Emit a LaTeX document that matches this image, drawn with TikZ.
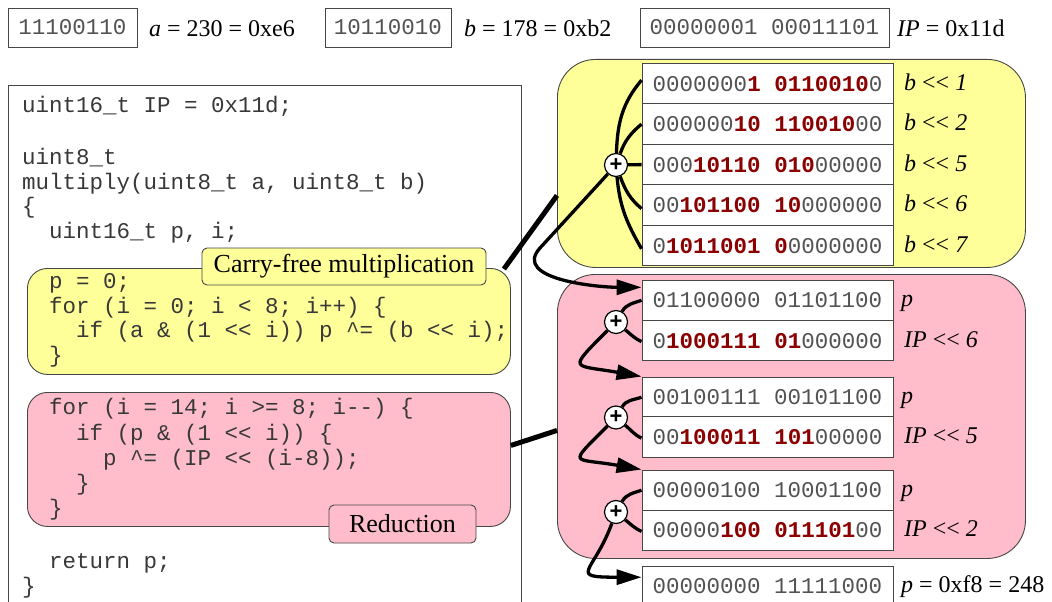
\documentclass[tikz,border=0pt]{standalone}
\usepackage{fontspec}
\setmainfont{Liberation Serif}
\newfontfamily\codefont{Liberation Mono}
\newfontfamily\plusfont{Liberation Sans}
\usetikzlibrary{arrows.meta,calc}
\definecolor{yel}{RGB}{255,255,153}
\definecolor{pnk}{RGB}{255,189,204}
\definecolor{bitred}{RGB}{139,0,0}
\definecolor{edge}{RGB}{70,70,70}
\newcommand{\hb}[1]{{\bfseries\color{bitred}#1}}
\begin{document}
\begin{tikzpicture}[x=1pt,y=-1pt,
  codeline/.style={anchor=base west, inner sep=0pt, text=black!78,
    font=\codefont\fontsize{22.5}{25}\selectfont\frenchspacing},
  bitbox/.style={draw=edge, fill=white, line width=0.9pt, inner sep=0pt, text=black!68,
    font=\codefont\fontsize{22.5}{25}\selectfont\frenchspacing},
  bitrow/.style={bitbox, minimum width=251pt, minimum height=40.4pt},
  lab/.style={anchor=base west, inner sep=0pt, font=\fontsize{24}{28}\selectfont},
  callout/.style={draw=edge, line width=0.9pt, rounded corners=5pt, inner sep=0pt,
    font=\fontsize{26}{30}\selectfont},
  region/.style={draw=edge, line width=0.9pt, anchor=north west, inner sep=0pt},
  plusnode/.style={circle, draw=black, fill=white, line width=1.2pt, minimum size=23pt,
    inner sep=0pt, font=\plusfont\bfseries\fontsize{22}{22}\selectfont},
  link/.style={line width=3.3pt},
  fat/.style={line width=5pt},
  arr/.style={link, -{Triangle[length=25pt,width=15pt]}}
]
\useasboundingbox (0,0) rectangle (1052,602);

% top row
\node[bitbox, minimum width=129pt, minimum height=39pt] (abox) at (72.5,27.5) {11100110};
\node[lab] (alab) at (149,36.5) {\textit{a} = 230 = 0xe6};
\node[bitbox, minimum width=126pt, minimum height=39pt] (bbox) at (388,27.5) {10110010};
\node[lab] (blab) at (464,36.5) {\textit{b} = 178 = 0xb2};
\node[bitbox, minimum width=249pt, minimum height=39pt] (ipbox) at (764.5,27.5) {00000001 00011101};
\node[lab] (iplab) at (897,36.5) {\textit{IP} = 0x11d};

% code box
\node[region, fill=white, minimum width=513pt, minimum height=545pt] (codebox) at (8,85) {};

% right regions
\node[region, fill=yel, rounded corners=38pt, minimum width=468pt, minimum height=208pt] (outerY) at (557,59) {};
\node[region, fill=pnk, rounded corners=38pt, minimum width=468pt, minimum height=284pt] (outerP) at (557,274) {};

% code sub-regions
\node[region, fill=yel, rounded corners=20pt, minimum width=483pt, minimum height=106pt] (codeY) at (27,268) {};
\node[region, fill=pnk, rounded corners=20pt, minimum width=483pt, minimum height=134pt] (codeP) at (27,392) {};

% thick connectors
\draw[fat] ([xshift=-7pt,yshift=-1pt]codeY.north east) -- ([yshift=-32pt]outerY.west);
\draw[fat] ([yshift=14pt]codeP.east) -- ([yshift=-14pt]outerP.west);

\node[callout, fill=yel, minimum width=284pt, minimum height=37pt] (labY) at (344,266.5) {Carry-free multiplication};
\node[callout, fill=pnk, minimum width=147pt, minimum height=38pt] (labP) at (402.5,524) {Reduction};

% code text
\node[codeline] (c1) at (22,112) {uint16\_t IP = 0x11d;};
\node[codeline] (c2) at (22,164) {uint8\_t};
\node[codeline] (c3) at (22,189) {multiply(uint8\_t a, uint8\_t b)};
\node[codeline] (c4) at (22,213) {\{};
\node[codeline] (c5) at (49,238) {uint16\_t p, i;};
\node[codeline] (c6) at (49,288) {p = 0;};
\node[codeline] (c7) at (49,313) {for (i = 0; i < 8; i++) \{};
\node[codeline] (c8) at (76,337) {if (a \& (1 {<}{<} i)) p \textasciicircum= (b {<}{<} i);};
\node[codeline] (c9) at (49,362) {\}};
\node[codeline] (c10) at (49,414.5) {for (i = 14; i >= 8; i{-}{-}) \{};
\node[codeline] (c11) at (76,440) {if (p \& (1 {<}{<} i)) \{};
\node[codeline] (c12) at (103,465) {p \textasciicircum= (IP {<}{<} (i{-}8));};
\node[codeline] (c13) at (76,490) {\}};
\node[codeline] (c14) at (49,515) {\}};
\node[codeline] (c15) at (49,568) {return p;};
\node[codeline] (c16) at (22,593) {\}};

% yellow rows
\node[bitrow] (y1) at (767.5,83.6) {0000000\hb{1} \hb{0110010}0};
\node[bitrow] (y2) at (767.5,124.1) {000000\hb{10} \hb{110010}00};
\node[bitrow] (y3) at (767.5,164.6) {000\hb{10110} \hb{010}00000};
\node[bitrow] (y4) at (767.5,205.1) {00\hb{101100} \hb{10}000000};
\node[bitrow] (y5) at (767.5,245.6) {0\hb{1011001} \hb{0}0000000};
\node[lab] (ly1) at (904,90.1) {\textit{b} {<}{<} \textit{1}};
\node[lab] (ly2) at (904,130.6) {\textit{b} {<}{<} \textit{2}};
\node[lab] (ly3) at (904,171.1) {\textit{b} {<}{<} \textit{5}};
\node[lab] (ly4) at (904,211.6) {\textit{b} {<}{<} \textit{6}};
\node[lab] (ly5) at (904,252.1) {\textit{b} {<}{<} \textit{7}};

% pink rows
\node[bitrow] (p1a) at (767.5,300.3) {01100000 01101100};
\node[bitrow] (p1b) at (767.5,340.6) {0\hb{1000111} \hb{01}000000};
\node[bitrow] (p2a) at (767.5,397.2) {00100111 00101100};
\node[bitrow] (p2b) at (767.5,437.1) {00\hb{100011} \hb{101}00000};
\node[bitrow] (p3a) at (767.5,490.2) {00000100 10001100};
\node[bitrow] (p3b) at (767.5,530.4) {00000\hb{100} \hb{011101}00};
\node[bitrow] (fin) at (767.5,586.2) {00000000 11111000};
\node[lab] (lp1a) at (901,306.8) {\textit{p}};
\node[lab] (lp1b) at (904,347.1) {\textit{IP} {<}{<} \textit{6}};
\node[lab] (lp2a) at (901,403.7) {\textit{p}};
\node[lab] (lp2b) at (904,443.6) {\textit{IP} {<}{<} \textit{5}};
\node[lab] (lp3a) at (901,496.7) {\textit{p}};
\node[lab] (lp3b) at (904,536.9) {\textit{IP} {<}{<} \textit{2}};
\node[lab] (lfin) at (901,592.7) {\textit{p} = 0xf8 = 248};

% plus nodes
\node[plusnode] (yplus) at (616,165) {+};
\node[plusnode] (pp1) at (616,322) {+};
\node[plusnode] (pp2) at (616,417.5) {+};
\node[plusnode] (pp3) at (616,512) {+};

% yellow fan-in
\draw[link] (yplus) to[out=88,in=-130] ([yshift=3.5pt]y1.west);
\draw[link] (yplus) to[out=70,in=-140] (y2.west);
\draw[link] (yplus) -- (y3.west);
\draw[link] (yplus) to[out=-70,in=140] ([yshift=-3.5pt]y4.west);
\draw[link] (yplus) to[out=-85,in=120] ([yshift=-3.2pt]y5.west);

% yellow -> pink
\coordinate (bend1) at (540,248);
\draw[arr] (yplus) -- (bend1) to[out=-132,in=180] ([yshift=13pt]p1a.west);

% reduction steps
\draw[link] (pp1) to[out=60,in=-160] (p1a.west);
\draw[link] (pp1) to[out=-40,in=155] ([yshift=-1pt]p1b.west);
\draw[arr] (pp1) .. controls +(135:70) and +(-170:70) .. (p2a.north west);

\draw[link] (pp2) to[out=60,in=-160] (p2a.west);
\draw[link] (pp2) to[out=-40,in=155] ([yshift=-1pt]p2b.west);
\draw[arr] (pp2) .. controls +(135:70) and +(-170:70) .. (p3a.north west);

\draw[link] (pp3) to[out=60,in=-160] (p3a.west);
\draw[link] (pp3) to[out=-40,in=155] ([yshift=-1pt]p3b.west);
\draw[arr] (pp3) .. controls +(110:65) and +(180:75) .. ([yshift=9pt]fin.west);
\end{tikzpicture}
\end{document}
